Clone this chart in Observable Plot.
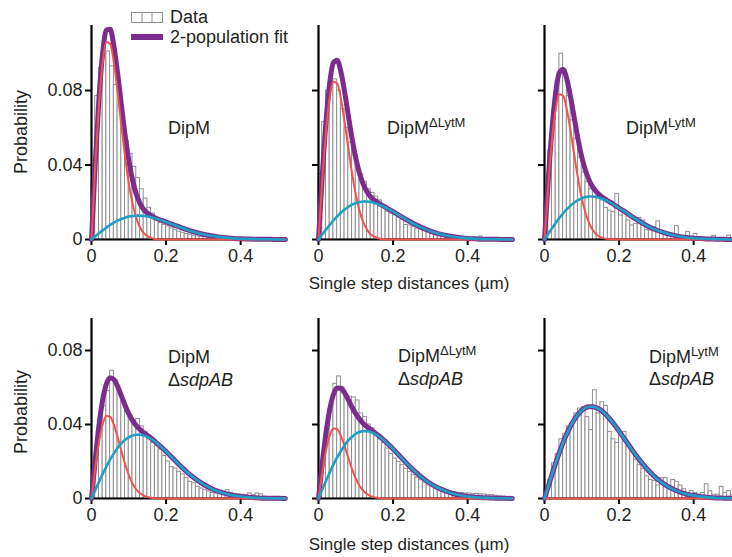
<!DOCTYPE html>
<html><head><meta charset="utf-8">
<script src="https://cdn.jsdelivr.net/npm/d3@7"></script>
<script src="https://cdn.jsdelivr.net/npm/@observablehq/plot@0.6"></script>
<style>
html,body{margin:0;padding:0;background:#fff;overflow:hidden;}
#root{position:relative;width:732px;height:557px;overflow:hidden;font-family:"Liberation Sans",Arial,sans-serif;color:#231f20;}
.p{position:absolute;}
.t{position:absolute;font-size:18px;line-height:22px;height:22px;white-space:nowrap;}
.sup{font-size:13px;position:relative;top:-7px;}
.rot{position:absolute;width:140px;text-align:center;font-size:18px;line-height:22px;transform:rotate(-90deg);}
.xt{position:absolute;width:260px;text-align:center;font-size:17px;line-height:22px;}
</style></head><body><div id="root"></div>
<script>
// ---- data ----
const binWidth = 0.01;
const xTicks = [0, 0.2, 0.4];
const yTicks = [0, 0.04, 0.08];
const curveX = [0,0.01,0.02,0.03,0.04,0.05,0.06,0.07,0.08,0.09,0.10,0.11,0.12,0.13,0.14,0.15,0.16,0.17,0.18,0.19,0.20,0.22,0.24,0.26,0.28,0.30,0.32,0.34,0.36,0.38,0.40,0.42,0.44,0.46,0.48,0.50,0.52];

const barsDipM = [0.030,0.077,0.092,0.100,0.101,0.093,0.083,0.072,0.062,0.053,0.046,0.039,0.033,0.027,0.022,0.017,0.014,0.011,0.009,0.0078,0.0070,0.0060,0.0052,0.0042,0.0036,0.0030,0.0026,0.0020,0.0017,0.0014,0.0012,0.0010,0.0008,0.0007,0.0006,0.0005,0.0004,0.0003,0.0003,0.0002,0.0002,0.0002,0.0001,0.0001,0.0001,0.0001,0.0001,0.0001,0,0,0,0];
const redDipM = [0,.0391,.0723,.0953,.1061,.1051,.0949,.0792,.0614,.0445,.0303,.0194,.0117,.0066,.0035,.0018,.0009,.0003,.0001,0,0,0,0,0,0,0,0,0,0,0,0,0,0,0,0,0,0];
const cyanDipM = [0,.0017,.0033,.0049,.0064,.0078,.0090,.0101,.0110,.0117,.0123,.0126,.0128,.0128,.0126,.0123,.0119,.0114,.0108,.0101,.0094,.0079,.0064,.0050,.0038,.0028,.0020,.0014,.0010,.0006,.0004,.0003,.0002,.0001,.0001,0,0];
const fitDipM = [0,.0408,.0756,.1002,.1125,.1129,.1039,.0893,.0724,.0562,.0426,.0320,.0245,.0194,.0161,.0141,.0128,.0117,.0109,.0101,.0094,.0079,.0064,.0050,.0038,.0028,.0020,.0014,.0010,.0006,.0004,.0003,.0002,.0001,.0001,0,0];

const barsDLytM = [0.035,0.063,0.080,0.085,0.086,0.080,0.070,0.060,0.052,0.045,0.040,0.035,0.031,0.027,0.025,0.023,0.021,0.0185,0.015,0.0138,0.013,0.012,0.0105,0.0078,0.0075,0.0066,0.0058,0.0052,0.0048,0.0041,0.0038,0.0033,0.0029,0.0026,0.0022,0.0019,0.0016,0.0013,0.0011,0.0009,0.0008,0.0006,0.0005,0.0016,0.0004,0.0003,0.0003,0.0002,0.0002,0.0001,0.0001,0.0001];
const redDLytM = [0,.0312,.0577,.0761,.0847,.0839,.0757,.0632,.0490,.0355,.0242,.0155,.0093,.0053,.0028,.0015,.0007,.0003,.0001,0,0,0,0,0,0,0,0,0,0,0,0,0,0,0,0,0,0];
const cyanDLytM = [0,.0027,.0053,.0078,.0102,.0124,.0144,.0161,.0175,.0187,.0195,.0201,.0204,.0204,.0201,.0196,.0190,.0181,.0172,.0161,.0150,.0126,.0102,.0080,.0061,.0045,.0032,.0023,.0015,.0010,.0006,.0004,.0002,.0001,.0001,0,0];
const fitDLytM = [0,.0339,.0630,.0839,.0949,.0963,.0901,.0793,.0665,.0542,.0437,.0356,.0297,.0257,.0229,.0211,.0197,.0184,.0173,.0161,.0150,.0126,.0102,.0080,.0061,.0045,.0032,.0023,.0015,.0010,.0006,.0004,.0002,.0001,.0001,0,0];

const barsLytM = [0.020,0.048,0.068,0.085,0.0997,0.091,0.077,0.064,0.054,0.044,0.036,0.031,0.027,0.027,0.024,0.021,0.017,0.0155,0.0147,0.0245,0.0129,0.0147,0.0102,0.0075,0.0084,0.0115,0.0102,0.005,0.0048,0.0066,0.0097,0.003,0.0025,0.002,0.002,0.0072,0.0015,0.0012,0.0041,0.001,0.003,0.0008,0.0006,0.0005,0.0005,0.002,0.0004,0.0004,0.0004,0.002,0.0005,0.0003];
const redLytM = [0,.0287,.0531,.0700,.0780,.0772,.0697,.0582,.0451,.0327,.0222,.0142,.0086,.0049,.0026,.0013,.0006,.0002,.0001,0,0,0,0,0,0,0,0,0,0,0,0,0,0,0,0,0,0];
const cyanLytM = [0,.0030,.0060,.0089,.0116,.0141,.0163,.0182,.0199,.0212,.0221,.0228,.0231,.0231,.0228,.0222,.0215,.0205,.0195,.0182,.0169,.0143,.0116,.0091,.0069,.0051,.0037,.0026,.0017,.0011,.0007,.0005,.0003,.0002,.0001,0,0];
const fitLytM = [0,.0317,.0591,.0789,.0896,.0913,.0860,.0764,.0650,.0539,.0443,.0370,.0317,.0280,.0254,.0235,.0221,.0207,.0196,.0182,.0169,.0143,.0116,.0091,.0069,.0051,.0037,.0026,.0017,.0011,.0007,.0005,.0003,.0002,.0001,0,0];

const barsDipMsdp = [0.010,0.025,0.040,0.050,0.058,0.069,0.064,0.0585,0.052,0.047,0.045,0.042,0.043,0.039,0.036,0.032,0.030,0.0285,0.0265,0.023,0.020,0.017,0.0162,0.0144,0.013,0.011,0.009,0.0082,0.0063,0.0054,0.0045,0.0038,0.003,0.0027,0.0025,0.0028,0.0045,0.003,0.0025,0.0022,0.002,0.0018,0.0027,0.0018,0.0027,0.0023,0.001,0.0008,0.0006,0.0005,0.0004,0.0003];
const redDipMsdp = [0,.0164,.0304,.0401,.0446,.0442,.0399,.0333,.0258,.0187,.0127,.0081,.0049,.0028,.0015,.0008,.0004,.0001,0,0,0,0,0,0,0,0,0,0,0,0,0,0,0,0,0,0,0];
const cyanDipMsdp = [0,.0045,.0090,.0133,.0173,.0211,.0244,.0273,.0298,.0317,.0331,.0341,.0345,.0345,.0341,.0333,.0322,.0308,.0291,.0273,.0254,.0213,.0173,.0136,.0104,.0077,.0055,.0038,.0026,.0017,.0011,.0007,.0004,.0002,.0001,.0001,0];
const fitDipMsdp = [0,.0209,.0394,.0534,.0619,.0653,.0643,.0606,.0556,.0504,.0458,.0422,.0394,.0373,.0356,.0341,.0326,.0309,.0291,.0273,.0254,.0213,.0173,.0136,.0104,.0077,.0055,.0038,.0026,.0017,.0011,.0007,.0004,.0002,.0001,.0001,0];

const barsDLytMsdp = [0.008,0.020,0.035,0.050,0.062,0.066,0.060,0.056,0.055,0.0546,0.053,0.046,0.044,0.040,0.038,0.035,0.032,0.030,0.027,0.024,0.0216,0.0198,0.018,0.016,0.0144,0.0126,0.0113,0.0099,0.0085,0.0072,0.0063,0.0054,0.0049,0.0041,0.0038,0.0036,0.0034,0.003,0.003,0.0027,0.0027,0.0023,0.0025,0.0022,0.0022,0.0018,0.0018,0.0015,0.0012,0.001,0.0008,0.0006];
const redDLytMsdp = [0,.0139,.0258,.0340,.0379,.0375,.0339,.0283,.0219,.0159,.0108,.0069,.0042,.0024,.0013,.0006,.0003,.0001,0,0,0,0,0,0,0,0,0,0,0,0,0,0,0,0,0,0,0];
const cyanDLytMsdp = [0,.0048,.0095,.0140,.0183,.0222,.0257,.0288,.0314,.0334,.0350,.0360,.0364,.0364,.0360,.0351,.0339,.0324,.0307,.0288,.0268,.0225,.0183,.0144,.0110,.0081,.0058,.0041,.0027,.0018,.0011,.0007,.0004,.0003,.0001,.0001,0];
const fitDLytMsdp = [0,.0187,.0353,.0480,.0562,.0597,.0596,.0571,.0533,.0493,.0458,.0429,.0406,.0388,.0373,.0357,.0342,.0325,.0307,.0288,.0268,.0225,.0183,.0144,.0110,.0081,.0058,.0041,.0027,.0018,.0011,.0007,.0004,.0003,.0001,.0001,0];

const barsLytMsdp = [0.005,0.010,0.019,0.024,0.032,0.035,0.039,0.041,0.046,0.0486,0.0495,0.044,0.037,0.0585,0.046,0.052,0.050,0.036,0.032,0.030,0.035,0.036,0.028,0.026,0.021,0.018,0.016,0.012,0.010,0.0095,0.007,0.011,0.011,0.006,0.010,0.009,0.007,0.005,0.003,0.004,0.003,0.002,0.003,0.0077,0.004,0.002,0.002,0.0063,0.003,0.004,0.002,0.002];
const redLytMsdp = [0,0,0,0,0,0,0,0,0,0,0,0,0,0,0,0,0,0,0,0,0,0,0,0,0,0,0,0,0,0,0,0,0,0,0,0,0];
const cyanLytMsdp = [0,.0065,.0129,.0191,.0249,.0303,.0350,.0392,.0427,.0455,.0476,.0490,.0496,.0496,.0490,.0479,.0462,.0442,.0418,.0392,.0364,.0307,.0249,.0196,.0149,.0110,.0079,.0055,.0037,.0024,.0016,.0010,.0006,.0003,.0002,.0001,0];
const fitLytMsdp = [0,.0065,.0129,.0191,.0249,.0303,.0350,.0392,.0427,.0455,.0476,.0490,.0496,.0496,.0490,.0479,.0462,.0442,.0418,.0392,.0364,.0307,.0249,.0196,.0149,.0110,.0079,.0055,.0037,.0024,.0016,.0010,.0006,.0003,.0002,.0001,0];

// ---- layout ----
const colAxisX = [91, 318, 544];
const rowTop = [25, 318];
const rowBase = [239, 498];
const rowYMax = [0.1149, 0.0973];
const xMax = 0.523;
const plotW = 195;
const ML = 60, MR = 10, MT = 8, MB = 40;

const colors = {bar: "#8f8f8f", red: "#f2524c", cyan: "#1ea0c6", purple: "#7b2c8c", ink: "#231f20"};

const panels = [
  {bars: barsDipM, red: redDipM, cyan: cyanDipM, fit: fitDipM, col: 0, row: 0},
  {bars: barsDLytM, red: redDLytM, cyan: cyanDLytM, fit: fitDLytM, col: 1, row: 0},
  {bars: barsLytM, red: redLytM, cyan: cyanLytM, fit: fitLytM, col: 2, row: 0},
  {bars: barsDipMsdp, red: redDipMsdp, cyan: cyanDipMsdp, fit: fitDipMsdp, col: 0, row: 1},
  {bars: barsDLytMsdp, red: redDLytMsdp, cyan: cyanDLytMsdp, fit: fitDLytMsdp, col: 1, row: 1},
  {bars: barsLytMsdp, red: redLytMsdp, cyan: cyanLytMsdp, fit: fitLytMsdp, col: 2, row: 1}
];

const root = document.getElementById("root");
const fmtY = d => d === 0 ? "0" : d3.format(".2f")(d);
const fmtX = d => d === 0 ? "0" : d3.format(".1f")(d);

for (const p of panels) {
  const plotH = rowBase[p.row] - rowTop[p.row];
  const barData = p.bars.map((v, i) => ({x1: i * binWidth, x2: (i + 1) * binWidth, y: v}));
  const line = arr => curveX.map((x, i) => ({x, y: arr[i]}));
  const chart = Plot.plot({
    width: ML + plotW + MR,
    height: MT + plotH + MB,
    marginLeft: ML, marginRight: MR, marginTop: MT, marginBottom: MB,
    style: {fontFamily: '"Liberation Sans", Arial, sans-serif', fontSize: "18px", color: colors.ink, background: "transparent", overflow: "visible"},
    x: {domain: [0, xMax], label: null},
    y: {domain: [0, rowYMax[p.row]], label: null},
    marks: [
      Plot.rectY(barData, {x1: "x1", x2: "x2", y: "y", fill: "white", stroke: colors.bar, strokeWidth: 1}),
      Plot.ruleX([0], {stroke: "black", strokeWidth: 2.2}),
      Plot.ruleY([0], {stroke: "black", strokeWidth: 2.2}),
      Plot.axisX({ticks: xTicks, tickSize: 6, tickPadding: 4, strokeWidth: 2, stroke: "black", tickFormat: fmtX, label: null}),
      Plot.axisY({ticks: yTicks, tickSize: 6, tickPadding: 3, strokeWidth: 2, stroke: "black", tickFormat: p.col === 0 ? fmtY : () => "", label: null}),
      Plot.line(line(p.fit), {x: "x", y: "y", stroke: colors.purple, strokeWidth: 5, curve: "monotone-x"}),
      Plot.line(line(p.red), {x: "x", y: "y", stroke: colors.red, strokeWidth: 2, curve: "monotone-x"}),
      Plot.line(line(p.cyan), {x: "x", y: "y", stroke: colors.cyan, strokeWidth: 2.6, curve: "monotone-x"})
    ]
  });
  chart.classList.add("p");
  chart.style.left = (colAxisX[p.col] - ML) + "px";
  chart.style.top = (rowTop[p.row] - MT) + "px";
  root.appendChild(chart);
}

// ---- text overlays ----
function addText(html, left, cy, cls = "t") {
  const d = document.createElement("div");
  d.className = cls;
  d.innerHTML = html;
  d.style.left = left + "px";
  d.style.top = (cy - 11) + "px";
  root.appendChild(d);
  return d;
}
addText("DipM", 168, 128);
addText('DipM<span class="sup">ΔLytM</span>', 387, 128);
addText('DipM<span class="sup">LytM</span>', 626, 128);
addText("DipM", 168, 357);
addText("Δ<i>sdpAB</i>", 168, 380);
addText('DipM<span class="sup">ΔLytM</span>', 398, 356);
addText("Δ<i>sdpAB</i>", 398, 379);
addText('DipM<span class="sup">LytM</span>', 649, 357);
addText("Δ<i>sdpAB</i>", 649, 379);

for (const cy of [132, 412]) {
  const d = addText("Probability", 21 - 70, cy, "rot");
}
for (const cy of [284, 545]) {
  addText("Single step distances (µm)", 409 - 130, cy, "xt");
}

// legend
const leg = document.createElementNS("http://www.w3.org/2000/svg", "svg");
leg.setAttribute("width", 36); leg.setAttribute("height", 34);
leg.style.position = "absolute"; leg.style.left = "129px"; leg.style.top = "10px";
leg.innerHTML = `<rect x="2.5" y="2.5" width="31" height="10" fill="white" stroke="${colors.bar}" stroke-width="1"/>
<line x1="13" y1="2.5" x2="13" y2="12.5" stroke="${colors.bar}"/><line x1="23" y1="2.5" x2="23" y2="12.5" stroke="${colors.bar}"/>
<line x1="2" y1="27" x2="34" y2="27" stroke="${colors.purple}" stroke-width="6"/>`;
root.appendChild(leg);
addText("Data", 170, 17);
addText("2-population fit", 170, 37);
</script></body></html>
